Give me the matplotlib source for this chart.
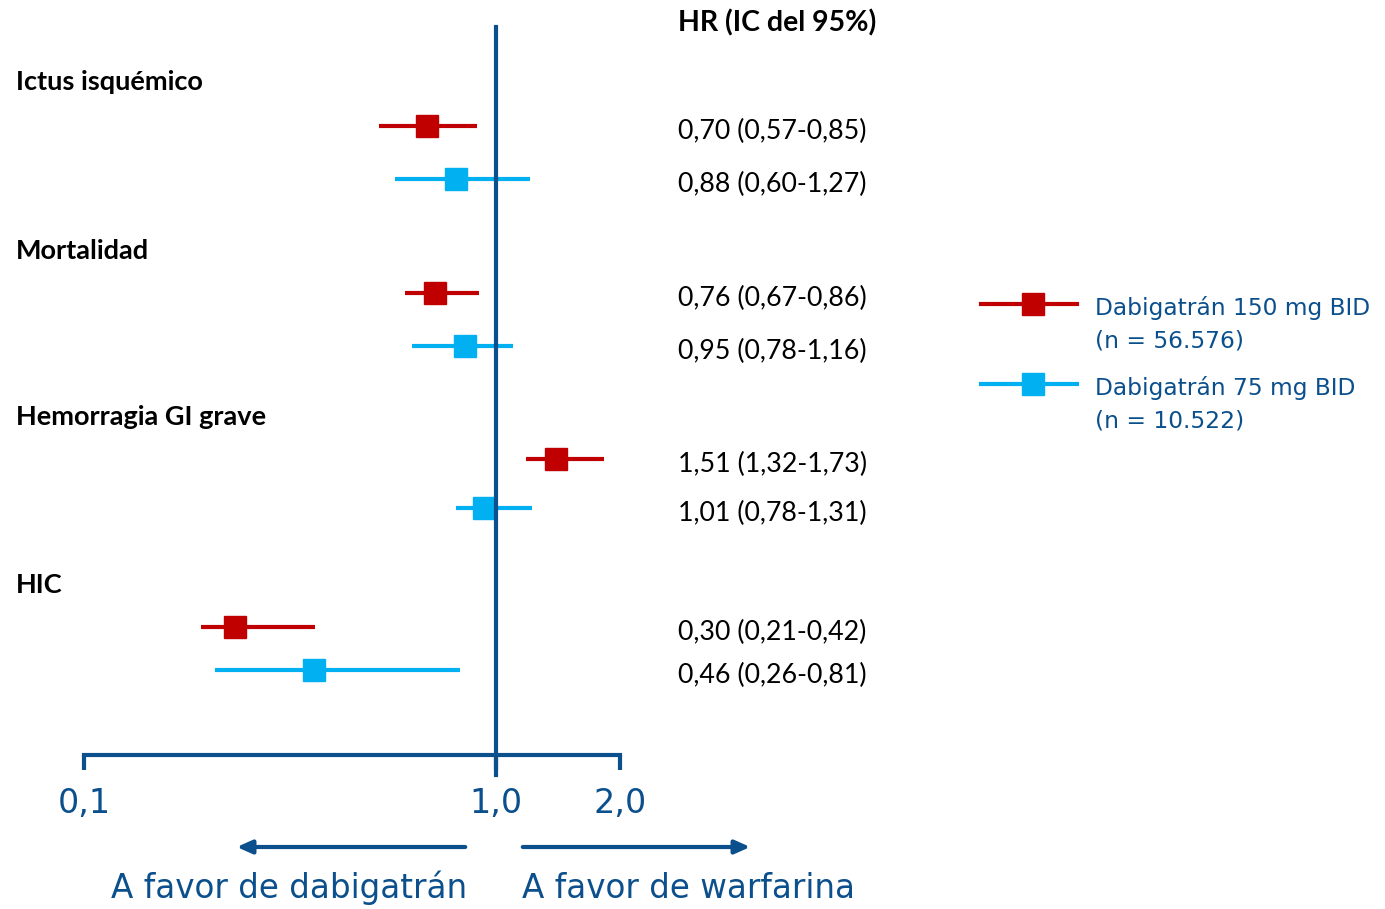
import matplotlib
matplotlib.use("Agg")
import matplotlib.pyplot as plt
from matplotlib.lines import Line2D

# data
groups = ["Ictus isquémico", "Mortalidad", "Hemorragia GI grave", "HIC"]
hr150 = [0.68, 0.71, 1.40, 0.232]
lo150 = [0.52, 0.60, 1.18, 0.192]
hi150 = [0.90, 0.91, 1.83, 0.364]
hr75 = [0.80, 0.84, 0.935, 0.362]
lo75 = [0.57, 0.625, 0.80, 0.208]
hi75 = [1.21, 1.10, 1.22, 0.818]
labels150 = ["0,70 (0,57-0,85)", "0,76 (0,67-0,86)", "1,51 (1,32-1,73)", "0,30 (0,21-0,42)"]
labels75 = ["0,88 (0,60-1,27)", "0,95 (0,78-1,16)", "1,01 (0,78-1,31)", "0,46 (0,26-0,81)"]
ticks = [0.1, 1.0, 2.0]
tick_labels = ["0,1", "1,0", "2,0"]
legend_labels = ["Dabigatrán 150 mg BID\n(n = 56.576)", "Dabigatrán 75 mg BID\n(n = 10.522)"]

# row layout (pixel rows from the top)
y_head = [80, 249, 415, 583]
y150 = [126, 293, 459, 627]
y75 = [179, 346, 508, 670]

RED = "#C00000"
CYAN = "#00B0F0"
NAVY = "#0B4F8C"
W, H = 1385, 909

fig = plt.figure(figsize=(W / 100, H / 100), dpi=100)
ax = fig.add_axes([84 / W, 0, 536 / W, 1])
ax.set_xscale("log")
ax.set_xlim(0.1, 2.0)
ax.set_ylim(H, 0)
ax.patch.set_visible(False)

for s in ["left", "right", "top"]:
    ax.spines[s].set_visible(False)
ax.spines["bottom"].set_position(("data", 755))
ax.spines["bottom"].set_bounds(0.1, 2.0)
ax.spines["bottom"].set_linewidth(3)
ax.spines["bottom"].set_color(NAVY)
ax.set_yticks([])
ax.set_xticks(ticks)
ax.set_xticklabels(tick_labels)
ax.minorticks_off()
ax.tick_params(axis="x", direction="out", length=11, width=3, color=NAVY,
               labelcolor=NAVY, labelsize=24, pad=12)

# no-effect line
ax.plot([1, 1], [27, 775], color=NAVY, lw=3, zorder=3, clip_on=False)

for hr, lo, hi, yy, c in [(hr150, lo150, hi150, y150, RED), (hr75, lo75, hi75, y75, CYAN)]:
    err = [[h - l for h, l in zip(hr, lo)], [u - h for h, u in zip(hr, hi)]]
    ax.errorbar(hr, yy, xerr=err, fmt="s", color=c, ms=16, elinewidth=3,
                capsize=0, zorder=2, clip_on=False)

def fx(px):
    return px / W

def fy(py):
    return 1 - py / H

for name, yy in zip(groups, y_head):
    fig.text(fx(16), fy(yy + 2), name, fontsize=19.5, fontweight="bold",
             family="Lato", va="center", ha="left")

fig.text(fx(678), fy(23), "HR (IC del 95%)", fontsize=20.5, fontweight="bold",
         family="Lato", va="center", ha="left")
for lab, yy in zip(labels150 + labels75, y150 + y75):
    fig.text(fx(678), fy(yy + 5), lab, fontsize=19.3, family="Lato",
             va="center", ha="left")

# legend drawn by hand
for lab, yy, c in zip(legend_labels, [304, 384], [RED, CYAN]):
    fig.add_artist(Line2D([fx(981), fx(1077)], [fy(yy)] * 2, color=c, lw=3,
                          transform=fig.transFigure))
    fig.add_artist(Line2D([fx(1033)], [fy(yy)], color=c, marker="s", ms=16,
                          transform=fig.transFigure))
    fig.text(fx(1095), fy(yy - 8), lab, fontsize=16.8, color=NAVY,
             va="top", ha="left", linespacing=1.55)

# direction arrows
arrow = dict(arrowstyle="-|>,head_length=0.9,head_width=0.4", color=NAVY, lw=3)
ax.annotate("", xy=(fx(234), fy(847)), xytext=(fx(468), fy(847)),
            xycoords="figure fraction", textcoords="figure fraction", arrowprops=arrow)
ax.annotate("", xy=(fx(753), fy(847)), xytext=(fx(520), fy(847)),
            xycoords="figure fraction", textcoords="figure fraction", arrowprops=arrow)
fig.text(fx(289), fy(888), "A favor de dabigatrán", fontsize=23.5, color=NAVY,
         ha="center", va="center")
fig.text(fx(688), fy(888), "A favor de warfarina", fontsize=23.5, color=NAVY,
         ha="center", va="center")

fig.savefig("out.png", dpi=100)
